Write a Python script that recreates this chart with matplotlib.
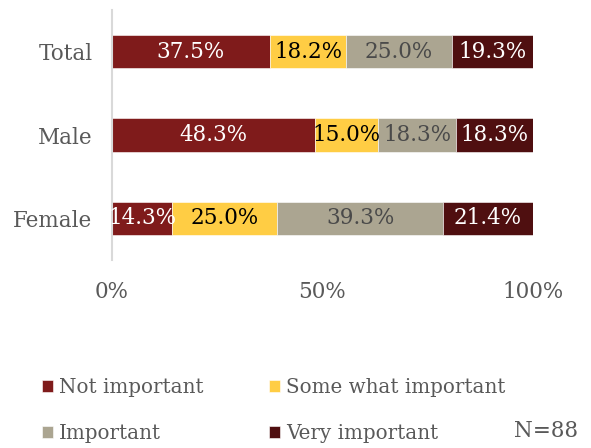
import matplotlib
matplotlib.use("Agg")
import matplotlib.pyplot as plt

plt.rcParams['font.family'] = ['DejaVu Serif']

groups = ["Total", "Male", "Female"]
series = ["Not important", "Some what important", "Important", "Very important"]
values = {
    "Not important": [37.5, 48.3, 14.3],
    "Some what important": [18.2, 15.0, 25.0],
    "Important": [25.0, 18.3, 39.3],
    "Very important": [19.3, 18.3, 21.4],
}
colors = {
    "Not important": "#7f1b1b",
    "Some what important": "#ffcd44",
    "Important": "#aba591",
    "Very important": "#4f0f10",
}
label_colors = {
    "Not important": "white",
    "Some what important": "black",
    "Important": "#4a4a4a",
    "Very important": "white",
}
xticks = [0, 50, 100]
xtick_labels = ["0%", "50%", "100%"]
n_text = "N=88"

FS = 15.5
LEG_FS = 14.3
TXT = "#595959"

fig = plt.figure(figsize=(5.91, 4.48), dpi=100)
ax = fig.add_axes([112 / 591, 1 - 260 / 448, 421 / 591, 250 / 448])

ypos = list(range(len(groups)))
left = [0.0] * len(groups)
handles = {}
for s in series:
    bars = ax.barh(ypos, values[s], left=left, height=0.4, color=colors[s],
                   edgecolor="white", linewidth=0.4, label=s)
    handles[s] = bars
    for y, l, v in zip(ypos, left, values[s]):
        ax.text(l + v / 2, y, f"{v:.1f}%", ha="center", va="center",
                fontsize=FS, color=label_colors[s])
    left = [a + b for a, b in zip(left, values[s])]

ax.set_xlim(0, 100)
ax.set_ylim(len(groups) - 0.5, -0.5)
ax.set_yticks(ypos)
ax.set_yticklabels(groups, fontsize=FS, color=TXT)
ax.set_xticks(xticks)
ax.set_xticklabels(xtick_labels, fontsize=FS, color=TXT)
ax.tick_params(axis="both", length=0)
ax.tick_params(axis="x", pad=15)
ax.tick_params(axis="y", pad=14)
for sp in ["top", "right", "bottom"]:
    ax.spines[sp].set_visible(False)
ax.spines["left"].set_color("#d9d9d9")
ax.spines["left"].set_linewidth(1.5)

order = ["Not important", "Important", "Some what important", "Very important"]
fig.legend([handles[s] for s in order], order, ncol=2, frameon=False,
           loc="upper left", bbox_to_anchor=(24 / 591, 1 - 360 / 448),
           fontsize=LEG_FS, labelcolor=TXT, handlelength=0.55, handleheight=0.55,
           handletextpad=0.3, columnspacing=3.3, labelspacing=1.35)

fig.text(578 / 591, 1 - 437 / 448, n_text, ha="right", va="baseline",
         fontsize=FS, color=TXT)

fig.savefig("out.png", dpi=100)
